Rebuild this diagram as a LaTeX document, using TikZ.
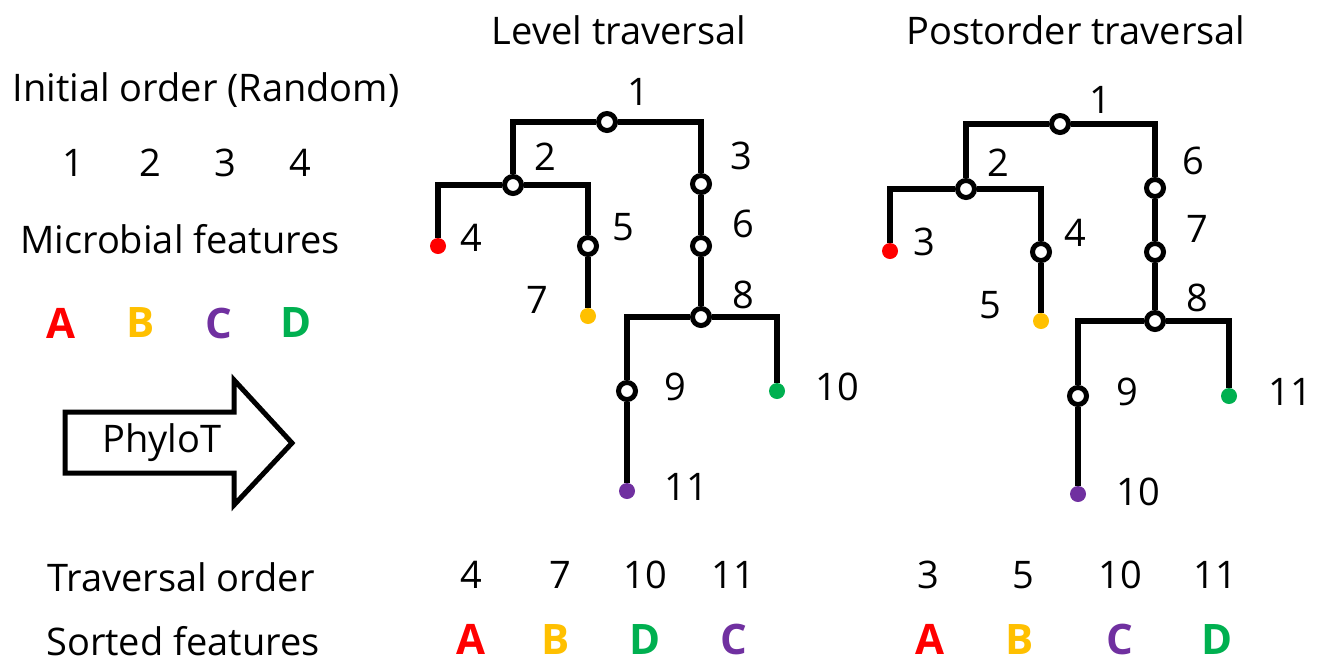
\documentclass[tikz,border=0pt]{standalone}
\usepackage{fontspec}
\setmainfont{Open Sans}
\usetikzlibrary{positioning}
\definecolor{fred}{HTML}{FF0000}
\definecolor{fyellow}{HTML}{FFC000}
\definecolor{fpurple}{HTML}{7030A0}
\definecolor{fgreen}{HTML}{00B050}
\begin{document}
\begin{tikzpicture}
    [x=0.5pt,y=-0.5pt,
     inner/.style={shape=circle,draw=black,fill=white,line width=2.5pt,inner sep=0pt,minimum size=8.5pt},
     leaf/.style={shape=circle,fill=#1,inner sep=0pt,minimum size=8pt},
     branch/.style={line width=2.8pt},
     txt/.style={font=\fontsize{19}{22}\selectfont,inner sep=1pt},
     feat/.style={font=\fontsize{21}{24}\selectfont\bfseries,text=#1,inner sep=0pt}]
    \useasboundingbox (0,0) rectangle (1318,665);
    % headers and left column
    \node [txt] (hlevel) at (619,30) {Level traversal};
    \node [txt] (hpost) at (1076,30) {Postorder traversal};
    \node [txt] (init) at (206,90) {Initial order (Random)};
    \foreach \t/\x in {1/73,2/150,3/225,4/300}
      \node [txt] (io\t) at (\x,163) {\t};
    \node [txt] (micro) at (180,239) {Microbial features};
    \foreach \t/\c/\x in {A/fred/61,B/fyellow/141,C/fpurple/219,D/fgreen/296}
      \node [feat=\c] (mf\t) at (\x,323) {\t};
    \node [txt] (phylot) at (162,443) {PhyloT};
    \draw [line width=2.5pt,line join=miter]
      (65,412) -- (234,412) -- (234,380) -- (292,443) -- (234,505) -- (234,473) -- (65,473) -- cycle;
    % level traversal tree
    \node [inner] (l1) at (607,122) {};
    \node [inner] (l2) at (513,185) {};
    \node [leaf=fred] (l4) at (438,246) {};
    \node [inner] (l5) at (588,246) {};
    \node [leaf=fyellow] (l7) at (588,316) {};
    \node [inner] (l3) at (701,184) {};
    \node [inner] (l6) at (701,246) {};
    \node [inner] (l8) at (701,317) {};
    \node [inner] (l9) at (627,391) {};
    \node [leaf=fgreen] (l10) at (777,391) {};
    \node [leaf=fpurple] (l11) at (627,491) {};
    \draw [branch] (l1) -| (l2) (l1) -| (l3) (l2) -| (l4) (l2) -| (l5)
      (l5) -- (l7) (l3) -- (l6) (l6) -- (l8) (l8) -| (l9) (l8) -| (l10) (l9) -- (l11);
    \foreach \t/\x/\y in {1/638/92,2/545/157,3/741/156,4/471/238,5/623/227,6/743/224,
                          7/537/300,8/743/295,9/675/387,10/837/387,11/686/487}
      \node [txt] (ln\t) at (\x,\y) {\t};
    % postorder traversal tree
    \node [inner] (p1) at (1060,124) {};
    \node [inner] (p2) at (966,189) {};
    \node [leaf=fred] (p3) at (890,251) {};
    \node [inner] (p4) at (1041,252) {};
    \node [leaf=fyellow] (p5) at (1041,321) {};
    \node [inner] (p6) at (1155,188) {};
    \node [inner] (p7) at (1155,252) {};
    \node [inner] (p8) at (1155,321) {};
    \node [inner] (p9) at (1078,396) {};
    \node [leaf=fpurple] (p10) at (1078,494) {};
    \node [leaf=fgreen] (p11) at (1229,396) {};
    \draw [branch] (p1) -| (p2) (p1) -| (p6) (p2) -| (p3) (p2) -| (p4)
      (p4) -- (p5) (p6) -- (p7) (p7) -- (p8) (p8) -| (p9) (p8) -| (p11) (p9) -- (p10);
    \foreach \t/\x/\y in {1/1100/100,2/998/163,3/924/242,4/1075/233,5/990/305,6/1193/161,
                          7/1197/229,8/1197/298,9/1127/392,10/1138/492,11/1290/392}
      \node [txt] (pn\t) at (\x,\y) {\t};
    % bottom rows
    \node [txt] (trav) at (181,577) {Traversal order};
    \node [txt] (sorted) at (183,641) {Sorted features};
    \foreach \t/\x in {4/471,7/560,10/645,11/733}
      \node [txt] (lt\t) at (\x,575) {\t};
    \foreach \t/\x in {3/928,5/1023,10/1120,11/1215}
      \node [txt] (pt\t) at (\x,575) {\t};
    \foreach \t/\c/\x in {A/fred/471,B/fyellow/556,D/fgreen/645,C/fpurple/734}
      \node [feat=\c,anchor=base] (ls\t) at (\x,654) {\t};
    \foreach \t/\c/\x in {A/fred/930,B/fyellow/1020,C/fpurple/1120,D/fgreen/1217}
      \node [feat=\c,anchor=base] (ps\t) at (\x,654) {\t};
\end{tikzpicture}
\end{document}
